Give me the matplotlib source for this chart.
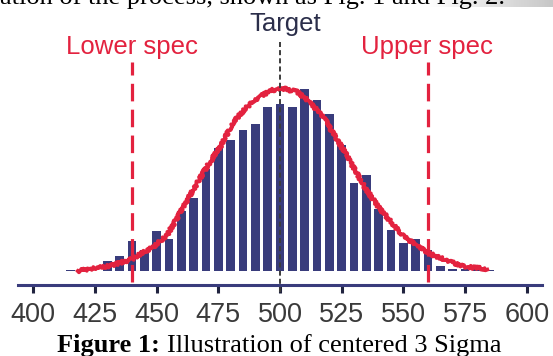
import numpy as np
import matplotlib.pyplot as plt

# histogram bins (centre of each bin) and their heights
bin_centers = [415, 420, 425, 430, 435, 440, 445, 450, 455, 460, 465, 470,
               475, 480, 485, 490, 495, 500, 505, 510, 515, 520, 525, 530,
               535, 540, 545, 550, 555, 560, 565, 570, 575, 580, 585]
counts = [1.5, 0, 0, 10, 15, 30, 21, 40, 32, 60, 73, 102,
          123, 131, 141, 147, 164, 167, 164, 182, 171, 157, 126, 88,
          96, 62, 41, 28, 32, 21, 5, 2, 2, 2, 1.5]

# fitted curve
curve_x = [418, 431, 440, 449, 454, 458, 465, 470.5, 476, 481, 487, 492,
           497, 501, 502, 507, 512, 518, 523, 528.5, 534, 539.5, 545, 550,
           555.5, 561, 569, 576, 584]
curve_y = [0, 5, 12, 25, 35, 52, 82, 105, 125, 149, 165, 175,
           181, 182, 182, 179, 169, 152, 132, 109, 85, 65, 49, 35,
           25, 17, 9, 4, 2]

lower_spec = 440
target = 500
upper_spec = 560
xticks = [400, 425, 450, 475, 500, 525, 550, 575, 600]

navy = '#393c7c'
red = '#e3223f'

fig = plt.figure(figsize=(5.53, 3.56), dpi=100)
ax = fig.add_axes([0, 0, 1, 1])
ax.set_xlim(386.5, 610.6)
ax.set_ylim(-85, 271)

# bars and curve
ax.bar(bin_centers, counts, width=3.5, color=navy, zorder=2)
line, = ax.plot(curve_x, curve_y, color=red, lw=2.7, zorder=3)
line.set_sketch_params(scale=1.6, length=1.8, randomness=3)

# spec lines and target line
ax.vlines([lower_spec, upper_spec], -11, 209, colors=red, lw=2.3,
          linestyles=(0, (5.5, 2.6)), zorder=4)
ax.vlines(target, -21, 229, colors='#3c3c3c', lw=1.4,
          linestyles=(0, (2.6, 1.6)), zorder=5)

ax.text(lower_spec, 217, 'Lower spec', color=red, fontsize=18.5,
        family='Liberation Sans', ha='center', va='baseline')
ax.text(upper_spec - 0.5, 217, 'Upper spec', color=red, fontsize=18.5,
        family='Liberation Sans', ha='center', va='baseline')
ax.text(target + 2, 240, 'Target', color='#2b2e4a', fontsize=18.5,
        family='Liberation Sans', ha='center', va='baseline')

# x axis
for s in ['left', 'right', 'top']:
    ax.spines[s].set_visible(False)
ax.spines['bottom'].set_position(('data', -14))
ax.spines['bottom'].set_bounds(393.6, 606.3)
ax.spines['bottom'].set_color(navy)
ax.spines['bottom'].set_linewidth(2.2)
ax.set_yticks([])
ax.set_xticks(xticks)
ax.tick_params(axis='x', direction='out', length=6, width=2.2,
               color='#20233f', labelsize=19.5, labelcolor='#3a3a3a', pad=6)
for lbl in ax.get_xticklabels():
    lbl.set_family('Liberation Sans')

# caption and cut-off text line from the page
fig.text(160 / 553, 1 - 343 / 356, 'Figure 1:', family='Liberation Serif',
         fontsize=19, weight='bold', ha='right', va='center_baseline')
fig.text(167 / 553, 1 - 343 / 356, 'Illustration of centered 3 Sigma',
         family='Liberation Serif', fontsize=19, ha='left',
         va='center_baseline')
fig.text(0, 1 - 4 / 356, 'ation of the process, shown as Fig. 1 and Fig. 2.',
         family='Liberation Serif', fontsize=19, ha='left', va='baseline')

gax = fig.add_axes([427 / 553, 1 - 7 / 356, 126 / 553, 7 / 356])
gax.imshow(np.linspace(1, 0.78, 50)[None, :], cmap='gray', vmin=0, vmax=1,
           aspect='auto')
gax.axis('off')

fig.savefig('out.png', dpi=100)
